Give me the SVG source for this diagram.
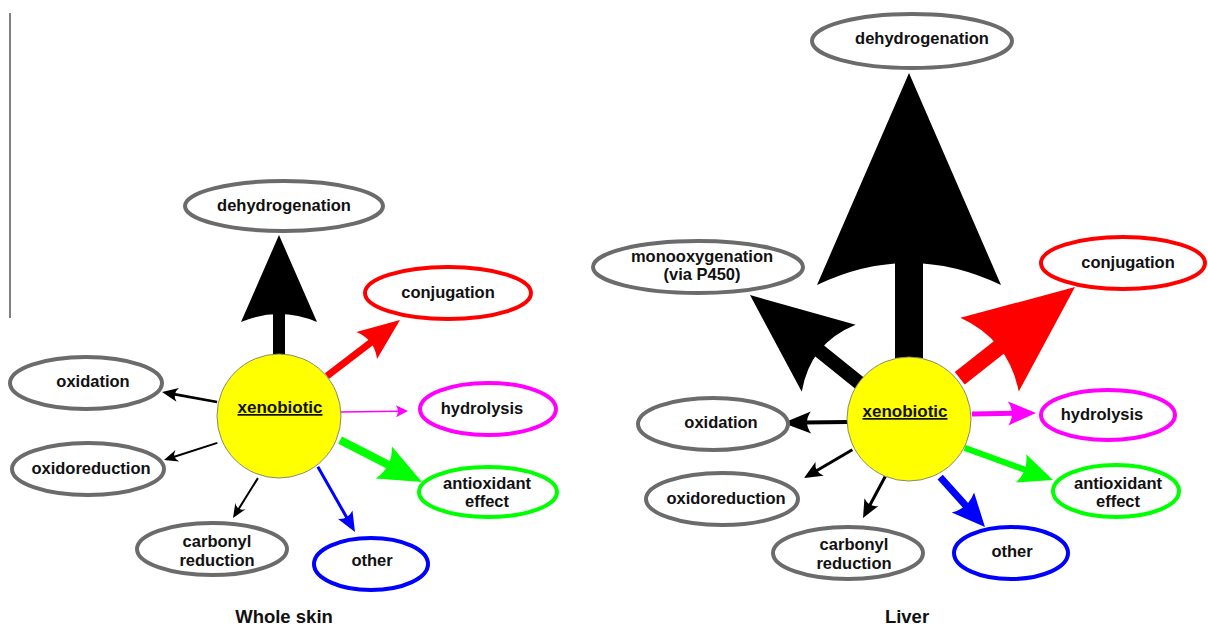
<svg xmlns="http://www.w3.org/2000/svg" width="1208" height="626" viewBox="0 0 1208 626">
<style>
text{font-family:"Liberation Sans",Arial,Helvetica,sans-serif;font-weight:bold;font-size:16.5px;fill:#111;text-anchor:middle}
.title{font-size:18.5px}
.xen{font-size:17px;text-decoration:underline}
.gray{fill:#fff;stroke:#6b6b6b;stroke-width:4}
.red{fill:#fff;stroke:#ff0000;stroke-width:4}
.mag{fill:#fff;stroke:#ff00ff;stroke-width:4}
.grn{fill:#fff;stroke:#00ff00;stroke-width:4}
.blu{fill:#fff;stroke:#0000ff;stroke-width:4}
.core{fill:#ffff00;stroke:#8a8a6a;stroke-width:1}
</style>
<line x1="10" y1="13" x2="10" y2="318" stroke="#808080" stroke-width="2"/>
<g id="connectors">
  <!-- Whole skin -->
  <g fill="#000" stroke="#000" transform="translate(279,235) rotate(-90)">
    <line x1="-120" y1="0" x2="-78" y2="0" stroke-width="12"/>
    <path d="M0,0 L-87,-38 Q-71,0 -87,38 Z" stroke="none"/>
  </g>
  <g fill="#ff0000" stroke="#ff0000" transform="translate(400,320) rotate(-37.5)">
    <line x1="-92" y1="0" x2="-36" y2="0" stroke-width="7"/>
    <path d="M0,0 L-42,-17 Q-32,0 -42,17 Z" stroke="none"/>
  </g>
  <g fill="#000" stroke="#000" transform="translate(162,392) rotate(190.3)">
    <line x1="-56" y1="0" x2="-12" y2="0" stroke-width="2.6"/>
    <path d="M0,0 L-16,-7 Q-10,0 -16,7 Z" stroke="none"/>
  </g>
  <g fill="#000" stroke="#000" transform="translate(164,460) rotate(162.2)">
    <line x1="-56" y1="0" x2="-10" y2="0" stroke-width="2"/>
    <path d="M0,0 L-14,-6 Q-8,0 -14,6 Z" stroke="none"/>
  </g>
  <g fill="#000" stroke="#000" transform="translate(233,518) rotate(122)">
    <line x1="-47" y1="0" x2="-10" y2="0" stroke-width="2"/>
    <path d="M0,0 L-14,-6 Q-8,0 -14,6 Z" stroke="none"/>
  </g>
  <g fill="#ff00ff" stroke="#ff00ff" transform="translate(408,411) rotate(-0.8)">
    <line x1="-68" y1="0" x2="-9" y2="0" stroke-width="1.5"/>
    <path d="M0,0 L-12,-6 Q-8,0 -12,6 Z" stroke="none"/>
  </g>
  <g fill="#00ff00" stroke="#00ff00" transform="translate(422,482) rotate(27.1)">
    <line x1="-92" y1="0" x2="-36" y2="0" stroke-width="8"/>
    <path d="M0,0 L-43,-18 Q-33,0 -43,18 Z" stroke="none"/>
  </g>
  <g fill="#0000ff" stroke="#0000ff" transform="translate(355,532) rotate(60.3)">
    <line x1="-75" y1="0" x2="-15" y2="0" stroke-width="3"/>
    <path d="M0,0 L-20,-8.5 Q-14,0 -20,8.5 Z" stroke="none"/>
  </g>
  <!-- Liver -->
  <g fill="#000" stroke="#000" transform="translate(909,73) rotate(-90)">
    <line x1="-285" y1="0" x2="-185" y2="0" stroke-width="28"/>
    <path d="M0,0 L-212,-92 Q-168,0 -212,92 Z" stroke="none"/>
  </g>
  <g fill="#000" stroke="#000" transform="translate(750,295) rotate(-141.2)">
    <line x1="-144" y1="0" x2="-85" y2="0" stroke-width="14"/>
    <path d="M0,0 L-101,-43 Q-77,0 -101,43 Z" stroke="none"/>
  </g>
  <g fill="#ff0000" stroke="#ff0000" transform="translate(1075,287) rotate(-38.4)">
    <line x1="-147" y1="0" x2="-92" y2="0" stroke-width="16"/>
    <path d="M0,0 L-109,-47 Q-85,0 -109,47 Z" stroke="none"/>
  </g>
  <g fill="#ff00ff" stroke="#ff00ff" transform="translate(1036,413) rotate(-0.9)">
    <line x1="-64" y1="0" x2="-22" y2="0" stroke-width="5"/>
    <path d="M0,0 L-28,-12 Q-20,0 -28,12 Z" stroke="none"/>
  </g>
  <g fill="#00ff00" stroke="#00ff00" transform="translate(1053,480) rotate(20)">
    <line x1="-94" y1="0" x2="-28" y2="0" stroke-width="6"/>
    <path d="M0,0 L-34,-15 Q-26,0 -34,15 Z" stroke="none"/>
  </g>
  <g fill="#0000ff" stroke="#0000ff" transform="translate(985,527) rotate(48)">
    <line x1="-67" y1="0" x2="-26" y2="0" stroke-width="7"/>
    <path d="M0,0 L-33,-15 Q-25,0 -33,15 Z" stroke="none"/>
  </g>
  <g fill="#000" stroke="#000" transform="translate(783,423) rotate(179)">
    <line x1="-64" y1="0" x2="-22" y2="0" stroke-width="4"/>
    <path d="M0,0 L-28,-11 Q-20,0 -28,11 Z" stroke="none"/>
  </g>
  <g fill="#000" stroke="#000" transform="translate(804,478) rotate(149.7)">
    <line x1="-56" y1="0" x2="-13" y2="0" stroke-width="3"/>
    <path d="M0,0 L-18,-8 Q-12,0 -18,8 Z" stroke="none"/>
  </g>
  <g fill="#000" stroke="#000" transform="translate(863,518) rotate(118.2)">
    <line x1="-47" y1="0" x2="-13" y2="0" stroke-width="3"/>
    <path d="M0,0 L-18,-8 Q-12,0 -18,8 Z" stroke="none"/>
  </g>
</g>
<!-- Whole skin nodes -->
<g id="skin-dehydrogenation"><ellipse class="gray" cx="284" cy="206" rx="99" ry="25"/><text x="284" y="211">dehydrogenation</text></g>
<g id="skin-conjugation"><ellipse class="red" cx="448" cy="293" rx="83" ry="26"/><text x="448" y="298">conjugation</text></g>
<g id="skin-oxidation"><ellipse class="gray" cx="86" cy="383" rx="76" ry="26"/><text x="93" y="387">oxidation</text></g>
<g id="skin-oxidoreduction"><ellipse class="gray" cx="88" cy="469" rx="76" ry="26"/><text x="91" y="474">oxidoreduction</text></g>
<g id="skin-carbonyl"><ellipse class="gray" cx="212" cy="549" rx="75" ry="26"/><text x="217" y="547">carbonyl</text><text x="217" y="566">reduction</text></g>
<g id="skin-hydrolysis"><ellipse class="mag" cx="488" cy="409" rx="68" ry="26"/><text x="482" y="414">hydrolysis</text></g>
<g id="skin-antioxidant"><ellipse class="grn" cx="488" cy="492" rx="69" ry="25"/><text x="487" y="489">antioxidant</text><text x="487" y="507">effect</text></g>
<g id="skin-other"><ellipse class="blu" cx="371" cy="564" rx="57" ry="26"/><text x="372" y="566">other</text></g>
<g id="skin-xenobiotic"><circle class="core" cx="279" cy="416" r="62"/><text class="xen" x="280" y="413">xenobiotic</text></g>
<text class="title" x="284" y="623">Whole skin</text>
<!-- Liver nodes -->
<g id="liver-dehydrogenation"><ellipse class="gray" cx="912" cy="41" rx="100" ry="27"/><text x="922" y="44">dehydrogenation</text></g>
<g id="liver-monooxygenation"><ellipse class="gray" cx="698" cy="267" rx="105" ry="26"/><text x="702" y="262">monooxygenation</text><text x="702" y="280">(via P450)</text></g>
<g id="liver-conjugation"><ellipse class="red" cx="1123" cy="263" rx="82" ry="26"/><text x="1128" y="268">conjugation</text></g>
<g id="liver-hydrolysis"><ellipse class="mag" cx="1108" cy="415" rx="67" ry="25"/><text x="1102" y="420">hydrolysis</text></g>
<g id="liver-antioxidant"><ellipse class="grn" cx="1116" cy="491" rx="63" ry="26"/><text x="1118" y="489">antioxidant</text><text x="1118" y="507">effect</text></g>
<g id="liver-other"><ellipse class="blu" cx="1011" cy="553" rx="57" ry="26"/><text x="1012" y="557">other</text></g>
<g id="liver-oxidation"><ellipse class="gray" cx="713" cy="424" rx="75" ry="26"/><text x="721" y="428">oxidation</text></g>
<g id="liver-oxidoreduction"><ellipse class="gray" cx="722" cy="499" rx="76" ry="26"/><text x="726" y="504">oxidoreduction</text></g>
<g id="liver-carbonyl"><ellipse class="gray" cx="848" cy="553" rx="75" ry="26"/><text x="854" y="550">carbonyl</text><text x="854" y="569">reduction</text></g>
<g id="liver-xenobiotic"><circle class="core" cx="909" cy="419" r="62"/><text class="xen" x="905" y="417">xenobiotic</text></g>
<text class="title" x="907" y="623">Liver</text>
</svg>
